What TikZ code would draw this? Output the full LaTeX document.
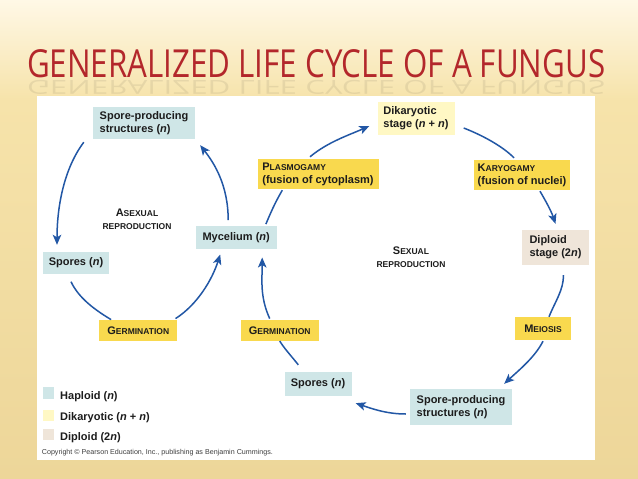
\documentclass[tikz,border=0pt]{standalone}
\usepackage{fontspec}
\setmainfont{Liberation Sans}
\newfontfamily\titlefont{Open Sans}
\usetikzlibrary{arrows.meta,calc}
\definecolor{hap}{HTML}{CFE6E7}
\definecolor{dik}{HTML}{FFF8C4}
\definecolor{dip}{HTML}{EFE5D9}
\definecolor{lab}{HTML}{F9D94E}
\definecolor{arrblue}{HTML}{2257A5}
\definecolor{titlered}{HTML}{B3272B}
\definecolor{txt}{HTML}{1C1C1C}
\definecolor{bgtop}{HTML}{FFF8E6}
\definecolor{bgmid}{HTML}{F6E3AA}
\definecolor{bgbot}{HTML}{EDD699}
\newcommand\fsc[2]{{\fontsize{11}{13}\selectfont #1}{\fontsize{8.5}{13}\selectfont #2}}
\begin{document}
\begin{tikzpicture}[x=1pt,y=-1pt,
  stagebox/.style={inner sep=0pt, align=left, text=txt, font=\bfseries\fontsize{11}{13}\selectfont},
  hapn/.style={stagebox, fill=hap},
  dikn/.style={stagebox, fill=dik},
  dipn/.style={stagebox, fill=dip},
  labn/.style={stagebox, fill=lab},
  lin/.style={draw=arrblue, line width=1.5pt},
  arr/.style={lin, -{Stealth[length=10pt,width=8.5pt,inset=2.5pt]}},
  legtext/.style={anchor=base west, inner sep=0pt, text=txt, font=\bfseries\fontsize{11}{13}\selectfont}]
\useasboundingbox (0,0) rectangle (638,479);
% background
\shade[top color=bgtop, bottom color=bgmid] (0,0) rectangle (638,100);
\shade[top color=bgmid, bottom color=bgbot] (0,100) rectangle (638,479);
\fill[white] (37,96) rectangle (595,460);
% title
\node[anchor=north west, inner sep=0pt] (title) at (27,49)
  {\resizebox{578pt}{28pt}{\titlefont\color{titlered}GENERALIZED LIFE CYCLE OF A FUNGUS}};
\node[anchor=north west, inner sep=0pt, opacity=0.07] (titlerefl) at (27,80)
  {\scalebox{1}[-0.5]{\resizebox{578pt}{28pt}{\titlefont\color{black}GENERALIZED LIFE CYCLE OF A FUNGUS}}};
% stages
\node[hapn, minimum width=102pt, minimum height=32pt] (sp1) at (144,123) {Spore-producing\\structures (\textit{n})};
\node[hapn, minimum width=66pt, minimum height=22pt] (spl) at (76,263) {Spores (\textit{n})};
\node[hapn, minimum width=81pt, minimum height=23pt] (myc) at (236.2,237.8) {Mycelium (\textit{n})};
\node[labn, minimum width=78pt, minimum height=21pt] (germ1) at (138.3,330.3) {\fsc{G}{ERMINATION}};
\node[labn, minimum width=78pt, minimum height=21pt] (germ2) at (279.7,330.3) {\fsc{G}{ERMINATION}};
\node[labn, minimum width=121pt, minimum height=30pt] (plas) at (318,174) {\fsc{P}{LASMOGAMY}\\(fusion of cytoplasm)};
\node[dikn, minimum width=77pt, minimum height=33pt] (dika) at (416,118) {Dikaryotic\\stage (\textit{n} + \textit{n})};
\node[labn, minimum width=96pt, minimum height=30pt] (kary) at (522,175) {\fsc{K}{ARYOGAMY}\\(fusion of nuclei)};
\node[dipn, minimum width=67pt, minimum height=35pt] (dipl) at (555.5,247.5) {Diploid\\stage (2\textit{n})};
\node[labn, minimum width=56pt, minimum height=23pt] (meio) at (543,328.5) {\fsc{M}{EIOSIS}};
\node[hapn, minimum width=67pt, minimum height=24pt] (spb) at (318,384) {Spores (\textit{n})};
\node[hapn, minimum width=102pt, minimum height=36pt] (spsb) at (461,407) {Spore-producing\\structures (\textit{n})};
% cycle labels
\node[stagebox, align=center] (asex) at (137,219) {\fsc{A}{SEXUAL}\\{\fontsize{8.5}{13}\selectfont REPRODUCTION}};
\node[stagebox, align=center] (sex) at (411,257.5) {\fsc{S}{EXUAL}\\{\fontsize{8.5}{13}\selectfont REPRODUCTION}};
% asexual cycle
\draw[arr] ($(sp1.south west)+(-9,3)$) .. controls +(-21,28) and +(0,-35) .. ($(spl.north)+(-19,-7)$);
\draw[lin] ($(spl.south)+(-5,7.5)$) .. controls +(8,17) and +(-15,-9) .. ($(germ1.north west)+(12,0)$);
\draw[arr] ($(germ1.north east)+(-2,-1)$) .. controls +(22,-14) and +(-8,25) .. ($(myc.south)+(-16,5)$);
\draw[arr] ($(myc.north)+(-8,-6)$) .. controls +(0,-35) and +(14,18) .. ($(sp1.south east)+(5,6)$);
% sexual cycle
\draw[lin] ($(myc.north east)+(-11,-2)$) .. controls +(5,-12) and +(-7,12) .. ($(plas.south west)+(25,1)$);
\draw[arr] ($(plas.north)+(-8,-2)$) .. controls +(18,-15) and +(-20,9) .. ($(dika.west)+(-8,8)$);
\draw[lin] ($(dika.east)+(9,10)$) .. controls +(18,7) and +(-12,-12) .. ($(kary.north)+(-8,-2)$);
\draw[arr] ($(kary.south)+(18,1)$) .. controls +(7,12) and +(-4,-12) .. ($(dipl.north)+(0,-6)$);
\draw[lin] ($(dipl.south)+(8,10)$) .. controls +(0,15) and +(6,-15) .. ($(meio.north)+(6,0)$);
\draw[arr] ($(meio.south)+(0,1)$) .. controls +(-8,16) and +(14,-13) .. ($(spsb.north east)+(-8,-5)$);
\draw[arr] ($(spsb.west)+(-4,7)$) .. controls +(-20,0) and +(15,5) .. ($(spb.south east)+(4,7)$);
\draw[lin] ($(spb.north west)+(14,-7)$) .. controls +(-8,-10) and +(5,8) .. (germ2.south);
\draw[arr] ($(germ2.north)+(-10,-1)$) .. controls +(-10,-22) and +(0,22) .. ($(myc.south)+(26,8)$);
% legend
\node[fill=hap, minimum width=11pt, minimum height=12pt, inner sep=0pt] (lg1) at (48.3,393) {};
\node[fill=dik, minimum width=11pt, minimum height=11pt, inner sep=0pt] (lg2) at (48.3,415.3) {};
\node[fill=dip, minimum width=11pt, minimum height=11pt, inner sep=0pt] (lg3) at (48.3,434.5) {};
\node[legtext] (lt1) at (60,399.5) {Haploid (\textit{n})};
\node[legtext] (lt2) at (60,420.5) {Dikaryotic (\textit{n} + \textit{n})};
\node[legtext] (lt3) at (60,440) {Diploid (2\textit{n})};
\node[anchor=west, inner sep=0pt, text=txt!85] (copy) at (41.7,452.5)
  {\resizebox{231pt}{!}{Copyright © Pearson Education, Inc., publishing as Benjamin Cummings.}};
\end{tikzpicture}
\end{document}
